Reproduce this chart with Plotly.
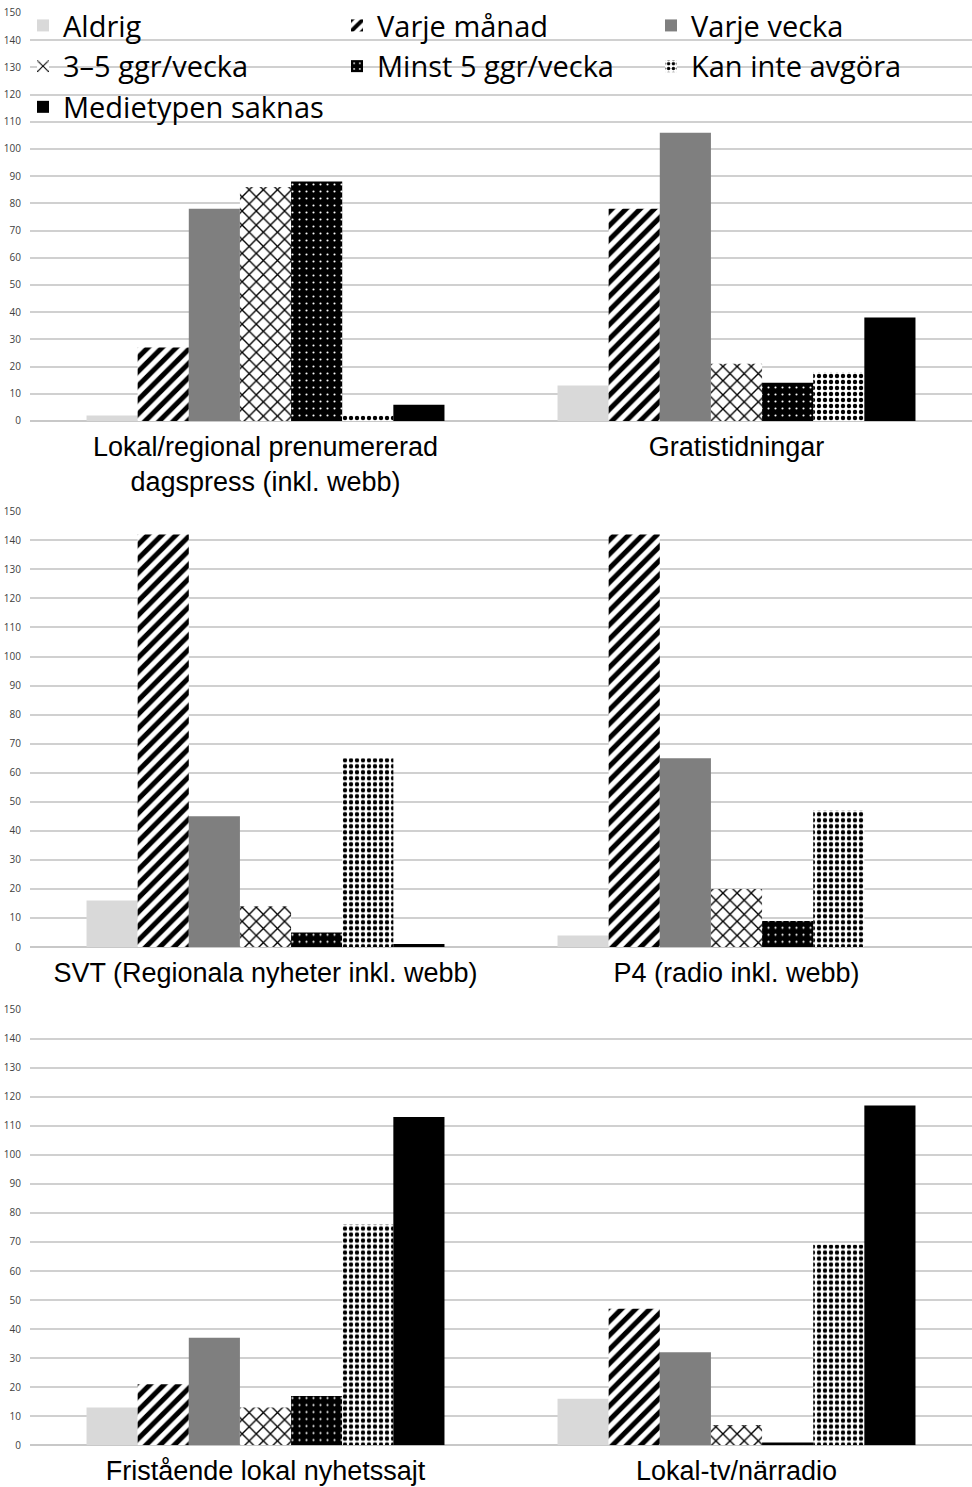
import plotly.graph_objects as go

series = ["Aldrig", "Varje månad", "Varje vecka", "3–5 ggr/vecka",
          "Minst 5 ggr/vecka", "Kan inte avgöra", "Medietypen saknas"]

cats1 = ["Lokal/regional prenumererad<br>dagspress (inkl. webb)", "Gratistidningar"]
cats2 = ["SVT (Regionala nyheter inkl. webb)", "P4 (radio inkl. webb)"]
cats3 = ["Fristående lokal nyhetssajt", "Lokal-tv/närradio"]

aldrig = [[2, 13], [16, 4], [13, 16]]
manad = [[27, 78], [142, 142], [21, 47]]
vecka = [[78, 106], [45, 65], [37, 32]]
ggr35 = [[86, 21], [14, 20], [13, 7]]
minst5 = [[88, 14], [5, 9], [17, 1]]
kanej = [[2, 18], [65, 47], [76, 69]]
saknas = [[6, 38], [1, 0], [113, 117]]

yticks = list(range(0, 151, 10))

styles = [
    dict(color="#d9d9d9"),
    dict(color="white", pattern=dict(shape="/", fgcolor="black", bgcolor="white", size=10, solidity=0.5, fillmode="overlay", fgopacity=1)),
    dict(color="#7f7f7f"),
    dict(color="white", pattern=dict(shape="x", fgcolor="black", bgcolor="white", size=10, solidity=0.25, fillmode="overlay", fgopacity=1)),
    dict(color="black", pattern=dict(shape=".", fgcolor="white", bgcolor="black", size=7, solidity=0.07, fillmode="overlay", fgopacity=1)),
    dict(color="white", pattern=dict(shape=".", fgcolor="black", bgcolor="white", size=6, solidity=0.42, fillmode="overlay", fgopacity=1)),
    dict(color="black"),
]

values = [aldrig, manad, vecka, ggr35, minst5, kanej, saknas]
panels = [cats1, cats2, cats3]

fig = go.Figure()
H = 1487.0
W = 972.0
# panel pixel extents (top, bottom) of plot areas
extents = [(2, 413), (504, 943), (1006, 1445)]

for p, cats in enumerate(panels):
    xa = "x" if p == 0 else f"x{p+1}"
    ya = "y" if p == 0 else f"y{p+1}"
    for s, name in enumerate(series):
        st = styles[s]
        marker = dict(color=st["color"], line=dict(width=0))
        if "pattern" in st:
            marker["pattern"] = st["pattern"]
        fig.add_trace(go.Bar(
            x=cats, y=values[s][p], name=name, marker=marker,
            xaxis=xa, yaxis=ya, showlegend=(p == 0), legendgroup=name,
        ))

layout = dict(
    width=972, height=1487,
    margin=dict(l=0, r=0, t=0, b=0),
    paper_bgcolor="white", plot_bgcolor="white",
    barmode="group", bargap=0.24, bargroupgap=0,
    showlegend=True,
    legend=dict(
        orientation="h", x=23 / W, y=1 + 11 / H, xanchor="left", yanchor="top",
        entrywidth=269, entrywidthmode="pixels",
        font=dict(family="Open Sans, Lato, sans-serif", size=29, color="black"),
        bgcolor="rgba(0,0,0,0)", traceorder="normal",
        itemwidth=30, tracegroupgap=0,
    ),
)

for p in range(3):
    top, bot = extents[p]
    xk = "xaxis" if p == 0 else f"xaxis{p+1}"
    yk = "yaxis" if p == 0 else f"yaxis{p+1}"
    ya = "y" if p == 0 else f"y{p+1}"
    xa = "x" if p == 0 else f"x{p+1}"
    layout[xk] = dict(
        domain=[30 / W, 1.0], anchor=ya,
        showline=False, showgrid=False, zeroline=False, ticks="",
        tickfont=dict(family="Liberation Sans, Arial, sans-serif", size=27, color="black"),
        automargin=False, ticklabelstandoff=7,
    )
    layout[yk] = dict(
        domain=[1 - bot / H, 1 - top / H], anchor=xa,
        range=[0, 150], tickvals=yticks, ticktext=[str(v) for v in yticks],
        showgrid=True, gridcolor="#d0d0d0", gridwidth=1.5,
        zeroline=True, zerolinecolor="#c8c8c8", zerolinewidth=2,
        showline=False, ticks="",
        tickfont=dict(family="Open Sans, DejaVu Sans, sans-serif", size=10, color="#404040"),
        automargin=False, ticklabelstandoff=8, ticklabeloverflow="allow",
    )

fig.update_layout(**layout)
fig.write_html(
    "out.html",
    config={"displayModeBar": False},
    post_script=(
        "document.body.style.margin='0';"
        "document.body.style.overflow='hidden';"
        "document.documentElement.style.overflow='hidden';"
        "var d=document.getElementById('{plot_id}');"
        "d.style.position='fixed';d.style.top='0px';d.style.left='0px';"
    ),
)
